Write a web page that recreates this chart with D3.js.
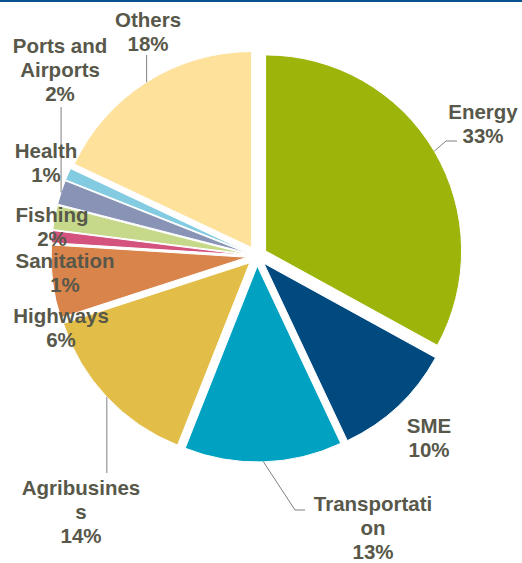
<!DOCTYPE html>
<html>
<head>
<meta charset="utf-8">
<script src="https://cdn.jsdelivr.net/npm/d3@7"></script>
<style>
  html, body { margin: 0; padding: 0; background: #fff; }
  svg { display: block; }
  .lbl { font-family: "Liberation Sans", Arial, sans-serif; font-weight: bold; font-size: 20.5px; fill: #58584a; }
</style>
</head>
<body>
<svg id="chart" width="522" height="563"></svg>
<script>
// Investment portfolio by sector (share of total, %), clockwise from 12 o'clock
const categories = ["Energy", "SME", "Transportation", "Agribusiness", "Highways",
                    "Sanitation", "Fishing", "Ports and Airports", "Health", "Others"];
const values = [33, 10, 13, 14, 6, 1, 2, 2, 1, 18];
const colors = ["#9db40b", "#004a80", "#00a1c1", "#e2be48", "#d8844b",
                "#d3537e", "#c6d98b", "#8893b6", "#82cbe1", "#fee29b"];

// Label placement: centre x, first baseline, wrapped lines, optional leader elbow
const labelLayout = {
  "Energy":             { x: 483, y: 119, lines: ["Energy"], leader: [[446, 141], [457, 141]] },
  "SME":                { x: 429, y: 433, lines: ["SME"] },
  "Transportation":     { x: 373, y: 511, lines: ["Transportati", "on"], leader: [[295, 510], [305, 510]] },
  "Agribusiness":       { x: 81,  y: 495, lines: ["Agribusines", "s"], leader: "down", leaderTo: 473 },
  "Highways":           { x: 61,  y: 323, lines: ["Highways"] },
  "Sanitation":         { x: 65,  y: 268, lines: ["Sanitation"] },
  "Fishing":            { x: 52,  y: 222, lines: ["Fishing"] },
  "Ports and Airports": { x: 60,  y: 53,  lines: ["Ports and", "Airports"], leader: "up", leaderTo: 107 },
  "Health":             { x: 46,  y: 158, lines: ["Health"] },
  "Others":             { x: 148, y: 27,  lines: ["Others"], leader: "up", leaderTo: 55 }
};

const W = 522, H = 563;
const cx = 257, cy = 256, R = 196, explode = 10, lineH = 24;

const svg = d3.select("#chart");

// top rule
svg.append("rect").attr("x", 0).attr("y", 0).attr("width", W).attr("height", 2).attr("fill", "#0a5190");

const data = categories.map((c, i) => ({ name: c, value: values[i], color: colors[i] }));
const pie = d3.pie().sort(null).value(d => d.value).startAngle(0).endAngle(2 * Math.PI);
const arcs = pie(data);
const arc = d3.arc().innerRadius(0).outerRadius(R);

const unit = a => [Math.sin(a), -Math.cos(a)];
const mid = d => (d.startAngle + d.endAngle) / 2;

const g = svg.append("g").attr("transform", `translate(${cx},${cy})`);

g.selectAll("path.slice")
  .data(arcs)
  .join("path")
  .attr("class", "slice")
  .attr("d", arc)
  .attr("fill", d => d.data.color)
  .attr("stroke", "#fff")
  .attr("stroke-width", 1)
  .attr("transform", d => {
    const [ux, uy] = unit(mid(d));
    return `translate(${ux * explode},${uy * explode})`;
  });

// point on a slice's outer edge at its mid angle (page coordinates)
function edgePoint(d) {
  const [ux, uy] = unit(mid(d));
  return [cx + ux * (explode + R), cy + uy * (explode + R)];
}

// leader lines
const leaderG = svg.append("g").attr("fill", "none").attr("stroke", "#7f7f7f").attr("stroke-width", 1);
arcs.forEach(d => {
  const L = labelLayout[d.data.name];
  if (!L || !L.leader) return;
  const p = edgePoint(d);
  const pts = (L.leader === "up" || L.leader === "down")
    ? [p, [p[0], L.leaderTo]]
    : [p, ...L.leader];
  leaderG.append("path").attr("d", d3.line()(pts));
});

// labels: category name lines then the percentage
arcs.forEach(d => {
  const L = labelLayout[d.data.name];
  const lines = [...L.lines, d.data.value + "%"];
  const t = svg.append("text").attr("class", "lbl").attr("text-anchor", "middle");
  lines.forEach((s, i) => {
    t.append("tspan").attr("x", L.x).attr("y", L.y + i * lineH).text(s);
  });
});
</script>
</body>
</html>
